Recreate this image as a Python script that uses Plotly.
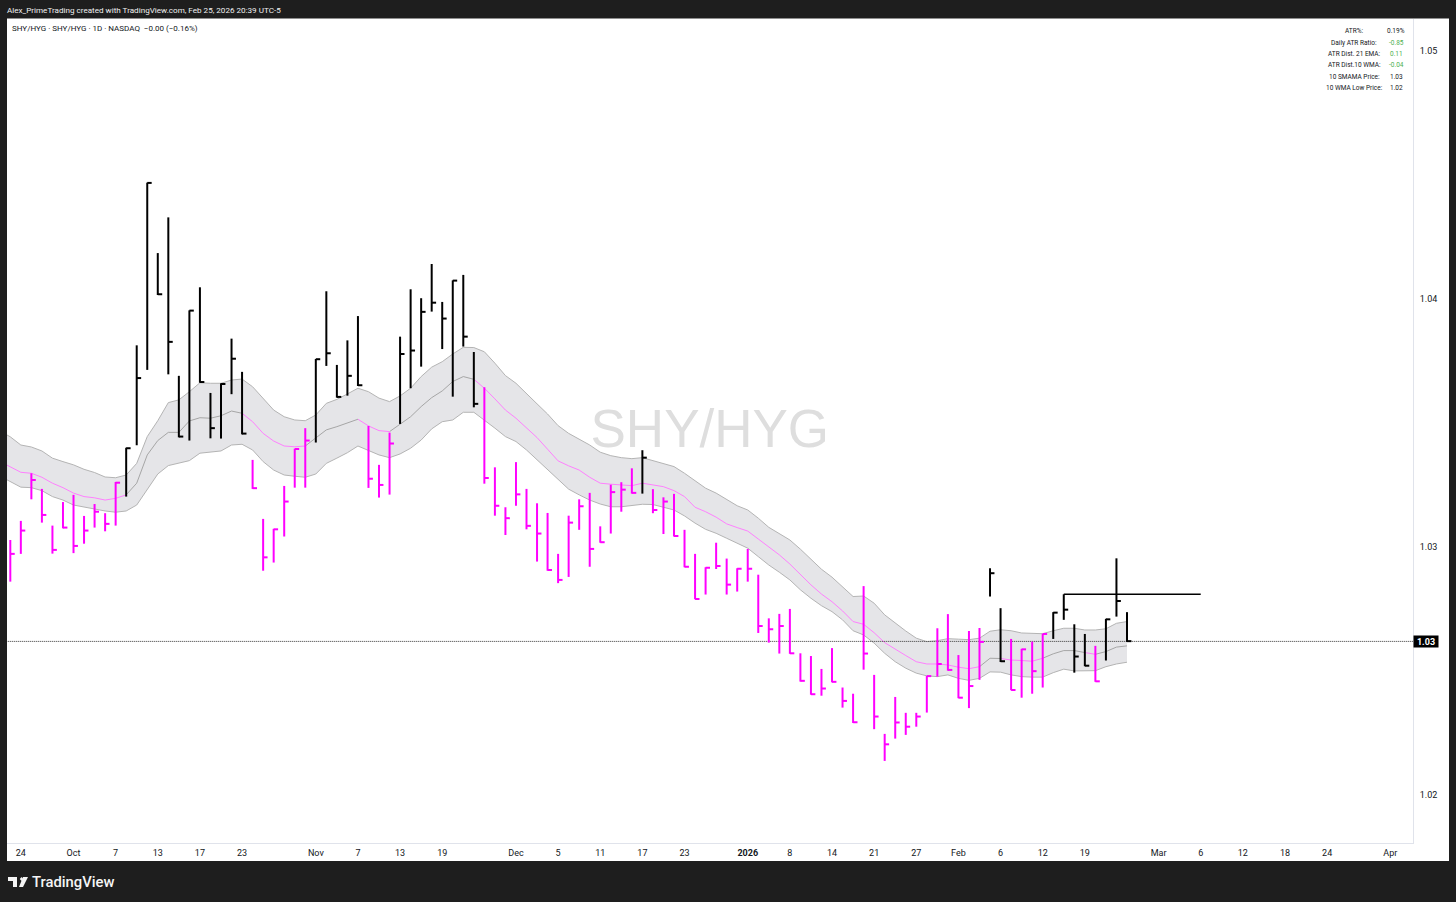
import plotly.graph_objects as go

# ---- data (prices in 1e-5 units) ----
highs = [103028,103105,103297,103234,103086,103181,103210,103125,103173,103136,103262,103400,103813,104469,104185,104329,103690,103954,104047,103621,103660,103840,103706,103351,103113,103073,103246,103396,103479,103758,104031,103734,103833,103931,103488,103331,103461,103848,104039,104003,104141,103988,104075,104097,103786,103644,103321,103160,103342,103234,103176,103137,102972,103126,103192,103218,103083,103251,103261,103317,103390,103233,103200,103214,103069,102972,102918,103017,102953,102914,102992,102888,102712,102730,102750,102571,102560,102508,102592,102433,102408,102842,102484,102246,102395,102331,102331,102480,102672,102729,102564,102661,102673,102914,102753,102629,102589,102618,102650,102737,102809,102688,102649,102601,102710,102954,102737]
lows = [102860,102972,103192,103098,102973,103075,102975,103013,103078,103063,103086,103203,103410,103714,104016,103696,103442,103429,103662,103438,103437,103616,103454,103234,102904,102937,103042,103239,103239,103421,103730,103602,103610,103649,103238,103199,103211,103496,103640,103727,103949,103798,103606,103808,103563,103255,103126,103048,103166,103071,102941,102904,102854,102879,103069,102920,103017,103054,103142,103215,103215,103136,103052,103042,102918,102789,102808,102911,102808,102820,102860,102653,102614,102570,102569,102457,102404,102400,102454,102352,102290,102505,102265,102137,102227,102242,102275,102332,102477,102501,102390,102350,102464,102800,102536,102422,102392,102408,102433,102629,102706,102493,102519,102456,102542,102719,102617]
closes = [102972,103066,103270,103129,102988,103078,103004,103066,103142,103093,103259,103398,103681,104468,104019,103827,103445,103953,103665,103479,103657,103759,103457,103237,102958,103071,103183,103395,103429,103757,103781,103605,103690,103652,103275,103250,103417,103778,103792,103948,103985,103921,104074,103848,103577,103278,103166,103116,103212,103085,103054,102907,102867,103098,103164,102992,103019,103221,103231,103218,103360,103149,103183,103044,102920,102790,102916,102923,102848,102912,102912,102681,102668,102681,102571,102460,102406,102429,102456,102379,102293,102570,102316,102204,102292,102275,102316,102479,102528,102504,102392,102439,102617,102894,102539,102423,102587,102499,102649,102735,102747,102558,102521,102458,102708,102782,102620]
black_bars = list(range(11,23)) + list(range(29,34)) + list(range(37,45)) + [60,93,94,99,100,101,102,104,105,106]

band_top = [103468,103444,103411,103403,103387,103358,103344,103331,103313,103300,103282,103279,103290,103337,103445,103509,103582,103593,103626,103662,103660,103660,103673,103677,103646,103600,103552,103525,103512,103509,103532,103579,103595,103617,103640,103626,103600,103586,103609,103640,103687,103725,103747,103778,103805,103804,103787,103741,103691,103660,103617,103577,103536,103489,103458,103434,103411,103382,103368,103360,103356,103360,103348,103335,103324,103297,103267,103237,103217,103192,103166,103149,103116,103079,103055,103028,102991,102952,102910,102878,102840,102800,102802,102773,102726,102692,102661,102632,102618,102622,102630,102628,102626,102632,102660,102666,102662,102653,102650,102650,102662,102672,102672,102665,102665,102670,102692,102699]
band_mid = [103345,103324,103301,103297,103281,103257,103239,103217,103203,103198,103189,103196,103210,103257,103371,103429,103462,103462,103508,103521,103519,103529,103548,103539,103505,103458,103427,103407,103404,103407,103438,103472,103485,103501,103515,103488,103469,103465,103496,103525,103566,103602,103629,103667,103687,103676,103640,103597,103552,103519,103479,103441,103394,103347,103327,103310,103281,103257,103253,103250,103247,103257,103250,103243,103227,103203,103160,103142,103120,103093,103078,103064,103032,102999,102968,102931,102887,102847,102810,102779,102742,102699,102688,102654,102614,102587,102562,102537,102528,102528,102524,102515,102509,102517,102551,102550,102544,102542,102539,102551,102569,102582,102582,102574,102567,102578,102596,102601]
band_low = [103286,103263,103241,103239,103227,103203,103189,103169,103160,103152,103145,103140,103145,103169,103230,103294,103328,103337,103348,103378,103382,103387,103411,103414,103391,103344,103310,103290,103285,103281,103294,103337,103358,103380,103407,103388,103371,103360,103375,103398,103431,103476,103505,103512,103543,103543,103512,103479,103445,103425,103391,103351,103310,103270,103233,103210,103189,103173,103162,103162,103166,103172,103171,103160,103149,103125,103096,103071,103055,103035,103015,102995,102961,102927,102898,102867,102827,102793,102763,102739,102706,102662,102645,102612,102571,102537,102511,102491,102480,102477,102484,102470,102462,102470,102496,102495,102484,102477,102475,102475,102493,102507,102500,102501,102501,102517,102528,102535]
band_x = list(range(-1, 107))
mid_pink_spans = [(-1,11),(22,28),(33,36),(44,92),(94,98),(102,103)]
mid_gray_spans = [(11,22),(28,33),(36,44),(92,94),(98,102),(103,106)]
level_start, level_end, level_price = 100, 113, 102809
last_price = 102619

tick_pos = [1,6,10,14,18,22,29,33,37,41,48,52,56,60,64,70,74,78,82,86,90,94,98,102,109,113,117,121,125,131]
tick_txt = ["24","Oct","7","13","17","23","Nov","7","13","19","Dec","5","11","17","23","<b>2026</b>","8","14","21","27","Feb","6","12","19","Mar","6","12","18","24","Apr"]
price_ticks = [1.02,1.03,1.04,1.05]
price_labels = ["1.02","1.03","1.04","1.05"]
table_labels = ["ATR%:","Daily ATR Ratio:","ATR Dist. 21 EMA:","ATR Dist.10 WMA:","10 SMAMA Price:","10 WMA Low Price:"]
table_values = ["0.19%","-0.85","0.11","-0.04","1.03","1.02"]
table_colors = ["#131722","#4caf50","#4caf50","#4caf50","#131722","#131722"]

W, H = 1456, 902
DARK = "#1e1e1e"; MAG = "#ff00ff"; INK = "#131722"; FONT = "Roboto"
def P(v): return v / 1e5
def px(x): return x / W
def py(y): return 1 - y / H

fig = go.Figure()
# watermark (behind everything)
fig.add_trace(go.Scatter(x=[66.4], y=[1.03455], mode="text", text=["SHY/HYG"],
    textfont=dict(family="Liberation Sans", size=53, color="#dedede"), hoverinfo="skip"))
# band
fig.add_trace(go.Scatter(x=band_x, y=[P(v) for v in band_top], mode="lines", line=dict(color="#b4b4b4", width=1)))
fig.add_trace(go.Scatter(x=band_x, y=[P(v) for v in band_low], mode="lines", line=dict(color="#b4b4b4", width=1),
    fill="tonexty", fillcolor="#e5e5e8"))
def spans(s):
    xs, ys = [], []
    for a, b in s:
        for i in range(a, b + 1):
            xs.append(i); ys.append(P(band_mid[i + 1]))
        xs.append(None); ys.append(None)
    return xs, ys
xs, ys = spans(mid_gray_spans)
fig.add_trace(go.Scatter(x=xs, y=ys, mode="lines", line=dict(color="#a6a6a6", width=1)))
xs, ys = spans(mid_pink_spans)
fig.add_trace(go.Scatter(x=xs, y=ys, mode="lines", line=dict(color="#ff80ff", width=1)))
# last price line
fig.add_trace(go.Scatter(x=[-1, 134], y=[P(last_price)] * 2, mode="lines", line=dict(color="#333333", width=1, dash="1px,1px")))
# HLC bars
def bars(sel):
    xs, ys = [], []
    for i in sel:
        xs += [i, i, None, i, i + 0.42, None]
        ys += [P(highs[i]), P(lows[i]), None, P(closes[i]), P(closes[i]), None]
    return xs, ys
mag_idx = [i for i in range(len(highs)) if i not in black_bars]
xs, ys = bars(mag_idx)
fig.add_trace(go.Scatter(x=xs, y=ys, mode="lines", line=dict(color=MAG, width=2)))
xs, ys = bars(black_bars)
fig.add_trace(go.Scatter(x=xs, y=ys, mode="lines", line=dict(color="#000000", width=2)))
# horizontal level
fig.add_trace(go.Scatter(x=[level_start, level_end], y=[P(level_price)] * 2, mode="lines", line=dict(color="#000000", width=1.5)))

def note(x, y, text, size=8, color=INK, anchor="left", family=FONT, weight=None):
    fig.add_annotation(xref="paper", yref="paper", x=px(x), y=py(y), text=text, showarrow=False,
        xanchor=anchor, yanchor="middle", font=dict(family=family, size=size, color=color, weight=weight), borderpad=0, borderwidth=0)

note(7, 10.3, "Alex_PrimeTrading created with TradingView.com, Feb 25, 2026 20:39 UTC-5", size=8.1, color="#f0f0f0")
note(12, 28.8, "SHY/HYG · SHY/HYG · 1D · NASDAQ&nbsp;&nbsp;−0.00 (−0.16%)", size=8)
for k, y in enumerate([31.5, 42.5, 53.5, 64.5, 76.5, 87.5]):
    note(1354, y, table_labels[k], size=6.5, anchor="center")
    note(1396, y, table_values[k], size=6.5, anchor="center", color=table_colors[k])
fig.add_annotation(xref="paper", yref="y", x=px(1426), xanchor="center", y=P(last_price), text="<b>1.03</b>", showarrow=False,
    font=dict(family=FONT, size=9, color="#ffffff"), bgcolor="#000000", width=24, height=11, borderpad=0)
note(32, 882, "TradingView", size=14.8, color="#f5f5f5", family="Roboto", weight=500)

def rect(x0, y0, x1, y1, color):
    return dict(type="rect", xref="paper", yref="paper", x0=px(x0), x1=px(x1), y0=py(y0), y1=py(y1),
                fillcolor=color, line=dict(width=0), layer="below")
def poly(pts, color):
    d = "M" + " L".join(f"{px(a):.5f},{py(b):.5f}" for a, b in pts) + " Z"
    return dict(type="path", xref="paper", yref="paper", path=d, fillcolor=color, line=dict(width=0))
shapes = [
    rect(7, 18.5, 1449, 861, "#ffffff"),
    poly([(8,877),(17,877),(17,887),(13,887),(13,881),(8,881)], "#f5f5f5"),
    poly([(21.5,877),(23.2,879),(21.5,881),(19.8,879)], "#f5f5f5"),
    poly([(23,877),(28,877),(23,887),(19,887)], "#f5f5f5"),
]

fig.update_layout(
    width=W, height=H, showlegend=False, paper_bgcolor=DARK, plot_bgcolor="rgba(0,0,0,0)",
    margin=dict(l=0, r=0, t=0, b=0, pad=0), shapes=shapes, hovermode=False,
    xaxis=dict(domain=[px(7), px(1413)], range=[-0.313, 133.15], tickmode="array", tickvals=tick_pos, ticktext=tick_txt, showgrid=False,
        zeroline=False, showline=True, linecolor="#e0e3eb", linewidth=1, ticks="", ticklabelstandoff=1,
        tickfont=dict(family=FONT, size=9, color=INK), tickangle=0, automargin=False),
    yaxis=dict(domain=[py(843), py(19)], range=[1.01806, 1.05129], side="right", tickmode="array", tickvals=price_ticks, ticktext=price_labels,
        showgrid=False, zeroline=False, showline=True, linecolor="#e0e3eb", linewidth=1, ticks="", ticklabelstandoff=4,
        tickfont=dict(family=FONT, size=9, color=INK), automargin=False),
)
fig.write_html("out.html", config=dict(displayModeBar=False),
               post_script="document.body.style.margin='0';document.body.style.overflow='hidden';")
